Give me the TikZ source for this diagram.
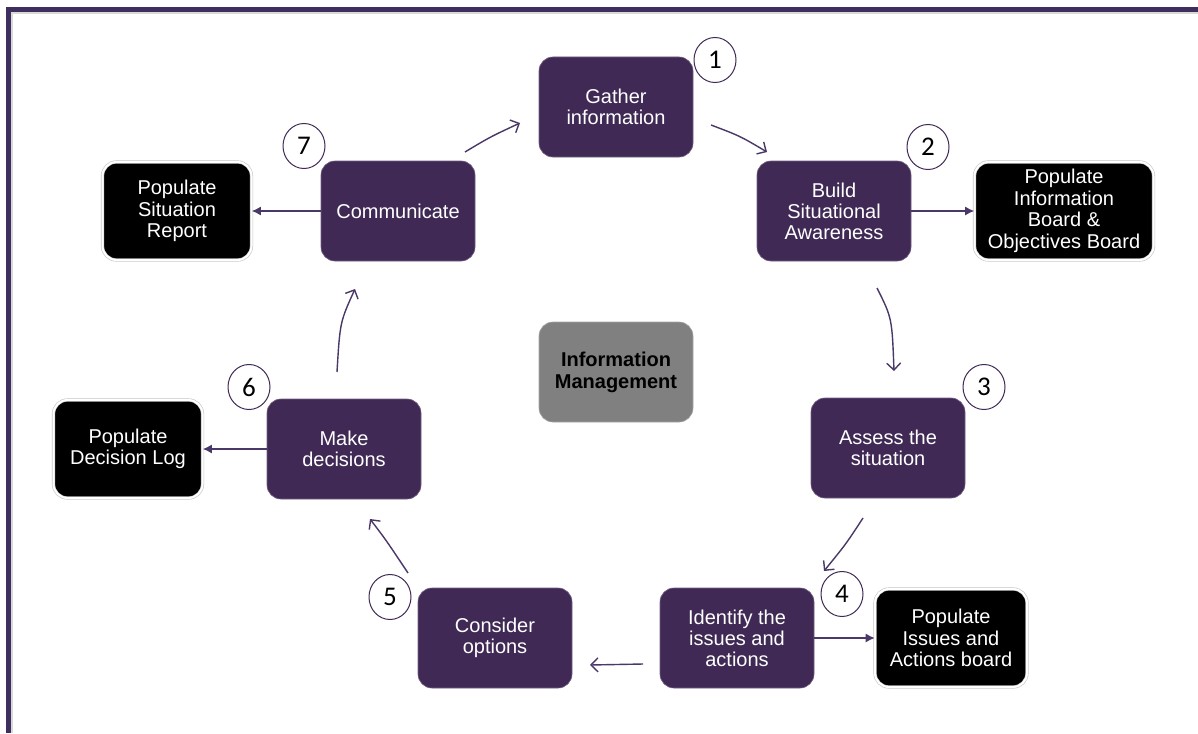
\documentclass[tikz,border=0pt]{standalone}
\usepackage{fontspec}
\setmainfont{Liberation Sans}
\newfontfamily\numfont{Carlito}
\usetikzlibrary{arrows.meta,shapes.geometric}
\definecolor{plum}{HTML}{402A55}
\definecolor{arrowplum}{HTML}{4A3868}
\definecolor{frameplum}{HTML}{3F2F5F}
\definecolor{hubgrey}{HTML}{808080}

\begin{document}
\begin{tikzpicture}[x=1pt,y=-1pt,
  stepbox/.style={rectangle, rounded corners=14pt, fill=plum, draw=plum!75!white,
    line width=0.6pt, minimum width=154pt, minimum height=100pt, text=white,
    align=center, font=\fontsize{20}{21}\selectfont, inner sep=0pt},
  outbox/.style={rectangle, rounded corners=14pt, fill=black, draw=gray!45,
    double=white, double distance=2pt, line width=0.6pt, minimum width=149pt,
    minimum height=98pt, text=white, align=center,
    font=\fontsize{20}{21.5}\selectfont, inner sep=0pt},
  hubbox/.style={rectangle, rounded corners=14pt, fill=hubgrey, draw=gray!70,
    line width=0.6pt, minimum width=154pt, minimum height=100pt, text=black,
    align=center, font=\bfseries\fontsize{20}{22}\selectfont, inner sep=0pt},
  badge/.style={ellipse, draw=plum, line width=1pt, fill=white,
    minimum width=42pt, minimum height=45pt, inner sep=0pt,
    font=\numfont\fontsize{27}{27}\selectfont},
  flow/.style={draw=arrowplum, line width=1.4pt,
    -{Straight Barb[length=7pt,width=14pt,line width=1.4pt]}},
  feed/.style={draw=arrowplum, line width=1.4pt, -{Latex[length=9pt,width=9pt]}}
]
\useasboundingbox (0,0) rectangle (1198,733);
\fill[white] (0,0) rectangle (1198,733);

% frame along the top and left edges
\draw[gray!30, line width=2pt] (11.5,733) -- (11.5,13.5) -- (1198,13.5);
\draw[frameplum, line width=5pt] (8,733) -- (8,10) -- (1198,10);

% process steps
\node[stepbox] (gather)   at (616,107) {Gather\\information};
\node[stepbox] (build)    at (834,211) {Build\\Situational\\Awareness};
\node[stepbox] (assess)   at (888,448) {Assess the\\situation};
\node[stepbox] (identify) at (737,638) {Identify the\\issues and\\actions};
\node[stepbox] (consider) at (495,638) {Consider\\options};
\node[stepbox] (decide)   at (344,449) {Make\\decisions};
\node[stepbox] (comm)     at (398,211) {Communicate};

% centre
\node[hubbox] (hub) at (616,372) {Information\\Management};

% outputs
\node[outbox, minimum width=179pt] (infoboard) at (1064,211) {Populate\\Information\\Board \&\\Objectives Board};
\node[outbox, minimum width=152pt] (issues) at (951,638) {Populate\\Issues and\\Actions board};
\node[outbox] (declog) at (128,449) {Populate\\Decision Log};
\node[outbox] (sitrep) at (177,211) {Populate\\Situation\\Report};

% step numbers
\node[badge] (n1) at (715,60)  {1};
\node[badge] (n2) at (928,147) {2};
\node[badge] (n3) at (984,387) {3};
\node[badge] (n4) at (842,594) {4};
\node[badge] (n5) at (390,597) {5};
\node[badge] (n6) at (249,387) {6};
\node[badge] (n7) at (304,146) {7};

% ends of the cycle arrows
\coordinate (a1s) at (465,152); \coordinate (a1e) at (520,123);
\coordinate (a2s) at (711,125); \coordinate (a2e) at (767,152);
\coordinate (a3s) at (877,288); \coordinate (a3e) at (894,371);
\coordinate (a4s) at (863,518); \coordinate (a4e) at (824,571);
\coordinate (a5s) at (643,664); \coordinate (a5e) at (590,665);
\coordinate (a6s) at (408,573); \coordinate (a6e) at (370,519);
\coordinate (a7s) at (337,372); \coordinate (a7e) at (355,289);

% cycle
\draw[flow] (a1s) .. controls (490,137) .. (a1e);
\draw[flow] (a2s) .. controls (740,136) .. (a2e);
\draw[flow] (a3s) .. controls (892,318) .. (a3e);
\draw[flow] (a4s) .. controls (846,544) .. (a4e);
\draw[flow] (a5s) -- (a5e);
\draw[flow] (a6s) .. controls (386,540) .. (a6e);
\draw[flow] (a7s) .. controls (340,322) .. (a7e);

% outputs of steps
\draw[feed] (build) -- (infoboard);
\draw[feed] (identify) -- (issues);
\draw[feed] (decide) -- (declog);
\draw[feed] (comm) -- (sitrep);
\end{tikzpicture}
\end{document}
